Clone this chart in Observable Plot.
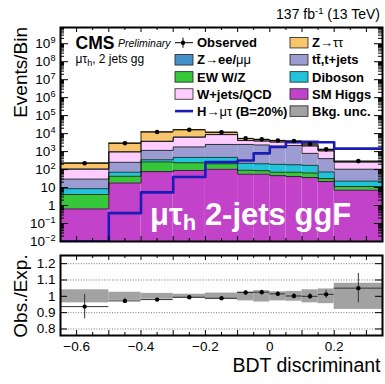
<!DOCTYPE html>
<html><head><meta charset="utf-8">
<script src="https://cdn.jsdelivr.net/npm/d3@7"></script>
<script src="https://cdn.jsdelivr.net/npm/@observablehq/plot@0.6"></script>
<style>
body{margin:0;background:#fff;}
#wrap{position:relative;width:385px;height:384px;overflow:hidden;}
#wrap svg{position:absolute;left:0;}
</style></head><body><div id="wrap"></div>
<script>
// ---------------- data ----------------
const binLo = [-0.65, -0.5, -0.4, -0.3, -0.2, -0.1, -0.05, 0, 0.05, 0.1, 0.15, 0.2];
const binHi = [-0.5, -0.4, -0.3, -0.2, -0.1, -0.05, 0, 0.05, 0.1, 0.15, 0.2, 0.35];
const smHiggs  = [0.65, 18, 77, 90, 105, 56, 56, 46, 41, 36, 21.6, 7.2];
const ewWZ     = [3.5, 25, 190, 150, 105, 37, 31, 26, 31, 29, 10, 4.3];
const diboson  = [4.5, 29, 85, 240, 270, 132, 123, 126, 114, 109, 42.4, 11.5];
const ttJets   = [21, 183, 820, 1340, 2020, 2275, 2130, 1840, 2000, 626, 333, 82];
const wJetsQCD = [75, 700, 2480, 4480, 6300, 1600, 1520, 1360, 1000, 1250, 683, 157];
const zLL      = [3, 30, 150, 200, 200, 100, 80, 70, 60, 50, 30, 5];
const zTauTau  = [130, 2000, 8800, 10100, 3000, 1100, 760, 650, 620, 550, 200, 15];
const signalHmt = [0.01, 0.38, 5.4, 39, 260, 320, 800, 1820, 3300, 3540, 3300, 1460];
const observed  = [223, 2900, 12350, 16500, 11860, 5420, 4820, 4180, 3870, 2650, 1335, 296];
const ratioObsExp = [0.937, 0.972, 0.98, 0.994, 0.988, 1.023, 1.025, 1.015, 1.002, 1.0, 1.012, 1.05];
const ratioErr    = [0.075, 0.015, 0.008, 0.007, 0.008, 0.012, 0.013, 0.014, 0.015, 0.017, 0.025, 0.09];
const bkgUnc      = [0.04, 0.025, 0.018, 0.013, 0.02, 0.028, 0.035, 0.028, 0.03, 0.04, 0.045, 0.08];

const layerNames  = ["SM Higgs", "EW W/Z", "Diboson", "tt,t+jets", "W+jets/QCD", "Z->ee/mumu", "Z->tautau"];
const layerColors = ["#c242c9", "#35c73a", "#22c3da", "#9c9cd2", "#ffccff", "#4490c8", "#f9c56b"];
const layerValues = [smHiggs, ewWZ, diboson, ttJets, wJetsQCD, zLL, zTauTau];

const yMajorTicks = [1e-2, 1e-1, 1, 1e1, 1e2, 1e3, 1e4, 1e5, 1e6, 1e7, 1e8, 1e9];
const xMajorTicks = [-0.6, -0.5, -0.4, -0.3, -0.2, -0.1, 0, 0.1, 0.2, 0.3];
const xMinorTicks = [-0.55, -0.45, -0.35, -0.25, -0.15, -0.05, 0.05, 0.15, 0.25];
const xLabelTicks = [-0.6, -0.4, -0.2, 0, 0.2];
const ratioTicks  = [0.8, 0.9, 1, 1.1, 1.2];

// ---------------- layout ----------------
const FONT = "'Liberation Sans', Arial, Helvetica, sans-serif";
const W = 385, ML = 60, MR = 3, FW = W - ML - MR;
const yMin = 0.01, yMax = 8e9;
const mainH = 250, mainMT = 27, mainMB = 9, mainFH = mainH - mainMT - mainMB;
const ratH = 134, ratMT = 5, ratMB = 49, ratFH = ratH - ratMT - ratMB;
const xDomain = [-0.65, 0.35];

const bins = binLo.map((lo, i) => ({i, lo, hi: binHi[i], c: (lo + binHi[i]) / 2}));

// stacked layers
const base = bins.map(() => 0);
const stackRects = [], stackTops = [];
layerValues.forEach((vals, k) => {
  bins.forEach((b, i) => {
    const y1 = base[i], y2 = base[i] + vals[i];
    stackRects.push({k, lo: b.lo, hi: b.hi, y1: Math.max(y1, yMin), y2});
    stackTops.push({k, x: b.lo, y: y2});
    base[i] = y2;
  });
  stackTops.push({k, x: binHi[binHi.length - 1], y: base[base.length - 1]});
});
const totals = base.slice();

const sigPts = bins.map(b => ({x: b.lo, y: signalHmt[b.i]}));
sigPts.push({x: binHi[binHi.length - 1], y: signalHmt[signalHmt.length - 1]});

const yMinor = [];
yMajorTicks.forEach(p => { for (let m = 2; m <= 9; m++) { const v = m * p; if (v < yMax) yMinor.push(v); } });

const pow = d => {
  const e = Math.round(Math.log10(d));
  if (e === 0) return "1";
  if (e === 1) return "10";
  return "10^" + (e < 0 ? "\u2212" + (-e) : String(e));
};

const tickRulesX = (fh, major, minor) => [
  Plot.ruleX(xMajorTicks, {x: d => d, insetTop: fh - major, stroke: "black", strokeWidth: 1}),
  Plot.ruleX(xMajorTicks, {x: d => d, insetBottom: fh - major, stroke: "black", strokeWidth: 1}),
  Plot.ruleX(xMinorTicks, {x: d => d, insetTop: fh - minor, stroke: "black", strokeWidth: 1}),
  Plot.ruleX(xMinorTicks, {x: d => d, insetBottom: fh - minor, stroke: "black", strokeWidth: 1})
];

const main = Plot.plot({
  width: W, height: mainH,
  marginLeft: ML, marginRight: MR, marginTop: mainMT, marginBottom: mainMB,
  style: {fontFamily: FONT, background: "transparent"},
  x: {domain: xDomain, axis: null},
  y: {type: "log", domain: [yMin, yMax], label: null},
  marks: [
    ...layerColors.map((col, k) =>
      Plot.rect(stackRects.filter(r => r.k === k), {x1: "lo", x2: "hi", y1: "y1", y2: "y2", fill: col, clip: true})),
    Plot.line(stackTops, {x: "x", y: "y", z: "k", curve: "step-after", stroke: "#111", strokeWidth: 0.8, clip: true}),
    Plot.rect(bins, {x1: "lo", x2: "hi", y1: d => totals[d.i] * (1 - bkgUnc[d.i]), y2: d => totals[d.i] * (1 + bkgUnc[d.i]), fill: "#666", fillOpacity: 0.5}),
    Plot.line(sigPts, {x: "x", y: "y", curve: "step-after", stroke: "#1b1bb5", strokeWidth: 2.6, clip: true}),
    Plot.ruleY(bins, {y: d => observed[d.i], x1: "lo", x2: "hi", stroke: "black", strokeWidth: 0.9}),
    Plot.dot(bins, {x: "c", y: d => observed[d.i], r: 2.3, fill: "black"}),
    ...tickRulesX(mainFH, 5, 3),
    Plot.ruleY(yMajorTicks, {y: d => d, insetRight: FW - 8, stroke: "black", strokeWidth: 1}),
    Plot.ruleY(yMajorTicks, {y: d => d, insetLeft: FW - 8, stroke: "black", strokeWidth: 1}),
    Plot.ruleY(yMinor, {y: d => d, insetRight: FW - 4, stroke: "black", strokeWidth: 1}),
    Plot.ruleY(yMinor, {y: d => d, insetLeft: FW - 4, stroke: "black", strokeWidth: 1}),
    Plot.frame({stroke: "black", strokeWidth: 2}),
    Plot.axisY({ticks: yMajorTicks, tickSize: 0, tickPadding: 5, tickFormat: pow, fontSize: 13.5, label: null})
  ]
});
main.style.top = "0px";
d3.select(main).selectAll('g[aria-label="y-axis tick label"] text').each(function () {
  const t = d3.select(this), s = t.text();
  if (s.includes("^")) {
    const [b, e] = s.split("^");
    t.text(b);
    t.append("tspan").attr("dy", "-0.5em").attr("font-size", "0.68em").text(e);
  }
});

const ratio = Plot.plot({
  width: W, height: ratH,
  marginLeft: ML, marginRight: MR, marginTop: ratMT, marginBottom: ratMB,
  style: {fontFamily: FONT, background: "transparent"},
  x: {domain: xDomain, label: null},
  y: {domain: [0.76, 1.25], label: null},
  marks: [
    Plot.ruleY(ratioTicks, {y: d => d, stroke: "#555", strokeWidth: 0.8, strokeDasharray: "1,1.6"}),
    Plot.rect(bins, {x1: "lo", x2: "hi", y1: d => 1 - bkgUnc[d.i], y2: d => 1 + bkgUnc[d.i], fill: "#a2a2a2"}),
    Plot.ruleY(bins, {y: d => ratioObsExp[d.i], x1: "lo", x2: "hi", stroke: "#333", strokeWidth: 1}),
    Plot.ruleX(bins, {x: "c", y1: d => ratioObsExp[d.i] - ratioErr[d.i], y2: d => ratioObsExp[d.i] + ratioErr[d.i], stroke: "#333", strokeWidth: 1}),
    Plot.dot(bins, {x: "c", y: d => ratioObsExp[d.i], r: 2.2, fill: "black"}),
    ...tickRulesX(ratFH, 5, 3),
    Plot.ruleY(ratioTicks, {y: d => d, insetRight: FW - 7, stroke: "black", strokeWidth: 1}),
    Plot.ruleY(ratioTicks, {y: d => d, insetLeft: FW - 7, stroke: "black", strokeWidth: 1}),
    Plot.frame({stroke: "black", strokeWidth: 2}),
    Plot.axisX({ticks: xLabelTicks, tickSize: 0, tickPadding: 6, fontSize: 13.5, label: null,
      tickFormat: d => Math.abs(d) < 1e-9 ? "0" : d3.format(".1f")(d)}),
    Plot.axisY({ticks: ratioTicks, tickSize: 0, tickPadding: 5, fontSize: 13.5, label: null,
      tickFormat: d => d === 1 ? "1" : d.toFixed(1)})
  ]
});
ratio.style.top = mainH + "px";

const wrap = document.getElementById("wrap");
wrap.appendChild(main);
wrap.appendChild(ratio);

// ---------------- annotations & legend ----------------
const ov = d3.select(wrap).append("svg").attr("width", W).attr("height", 384)
  .style("top", "0px").attr("font-family", FONT).style("pointer-events", "none");

function text(x, y, parts, {size = 13, anchor = "start", fill = "black", transform = null} = {}) {
  const t = ov.append("text").attr("x", x).attr("y", y).attr("font-size", size)
    .attr("text-anchor", anchor).attr("fill", fill);
  if (transform) t.attr("transform", transform).attr("x", 0).attr("y", 0);
  parts.forEach(p => {
    if (typeof p === "string") p = {t: p};
    const s = t.append("tspan").text(p.t);
    if (p.w) s.attr("font-weight", p.w);
    if (p.s) s.attr("font-size", p.s);
    if (p.dy) s.attr("dy", p.dy);
    if (p.st) s.attr("font-style", p.st);
  });
  return t;
}

text(380, 19.3, ["137 fb", {t: "-1", s: 9.5, dy: -5.5}, {t: " (13 TeV)", dy: 5.5}], {size: 14, anchor: "end"});
text(75.5, 48.8, [{t: "CMS", w: "bold"}], {size: 17.5});
text(118, 46.5, [{t: "Preliminary", st: "italic"}], {size: 10.5});
text(75.5, 63.2, ["\u03bc\u03c4", {t: "h", s: 9, dy: 3}, {t: ", 2 jets gg", dy: -3}], {size: 12});

// axis titles
text(0, 0, ["Events/Bin"], {size: 19, anchor: "end", transform: "translate(26.5,27) rotate(-90)"});
text(0, 0, ["Obs./Exp."], {size: 19, anchor: "middle", transform: "translate(26.5,296) rotate(-90)"});
text(380.5, 371.5, ["BDT discriminant"], {size: 19.5, anchor: "end"});

// big label on the SM Higgs area
text(150, 225, [{t: "\u03bc\u03c4", w: "bold"}, {t: "h", s: 22, dy: 5, w: "bold"}, {t: " 2-jets ggF", dy: -5, w: "bold"}], {size: 31, fill: "white"});

// legend
const rowBase = [47.3, 64.4, 81.5, 98.6, 115.7];
const col1 = 175, col2 = 290, bw = 18, bh = 10.5;
function box(x, yb, fill) {
  ov.append("rect").attr("x", x).attr("y", yb - 4.6 - bh / 2).attr("width", bw).attr("height", bh)
    .attr("fill", fill).attr("stroke", "#222").attr("stroke-width", 0.8);
}
// observed marker
{
  const cy = rowBase[0] - 4.6;
  ov.append("line").attr("x1", col1).attr("x2", col1 + bw).attr("y1", cy).attr("y2", cy).attr("stroke", "black").attr("stroke-width", 1);
  ov.append("line").attr("x1", col1 + 8).attr("x2", col1 + 8).attr("y1", cy - 5).attr("y2", cy + 5).attr("stroke", "black").attr("stroke-width", 1);
  ov.append("circle").attr("cx", col1 + 8).attr("cy", cy).attr("r", 2.2).attr("fill", "black");
}
box(col1, rowBase[1], layerColors[5]);
box(col1, rowBase[2], layerColors[1]);
box(col1, rowBase[3], layerColors[4]);
{
  const cy = rowBase[4] - 4.6;
  ov.append("line").attr("x1", col1).attr("x2", col1 + bw).attr("y1", cy).attr("y2", cy).attr("stroke", "#1b1bb5").attr("stroke-width", 2.6);
}
box(col2, rowBase[0], layerColors[6]);
box(col2, rowBase[1], layerColors[3]);
box(col2, rowBase[2], layerColors[2]);
box(col2, rowBase[3], layerColors[0]);
box(col2, rowBase[4], "#a2a2a2");

const tx1 = col1 + bw + 4, tx2 = col2 + bw + 4;
text(tx1, rowBase[0], [{t: "Observed", w: "bold"}]);
text(tx1, rowBase[1], [{t: "Z", w: "bold"}, "\u2192", {t: "ee/", w: "bold"}, "\u03bc\u03bc"]);
text(tx1, rowBase[2], [{t: "EW W/Z", w: "bold"}]);
text(tx1, rowBase[3], [{t: "W+jets/QCD", w: "bold"}]);
text(tx1, rowBase[4], [{t: "H", w: "bold"}, "\u2192\u03bc\u03c4", {t: " (B=20%)", w: "bold"}]);
text(tx2, rowBase[0], [{t: "Z", w: "bold"}, "\u2192\u03c4\u03c4"]);
text(tx2, rowBase[1], [{t: "tt\u0304,t+jets", w: "bold"}]);
text(tx2, rowBase[2], [{t: "Diboson", w: "bold"}]);
text(tx2, rowBase[3], [{t: "SM Higgs", w: "bold"}]);
text(tx2, rowBase[4], [{t: "Bkg. unc.", w: "bold"}]);
</script></body></html>
